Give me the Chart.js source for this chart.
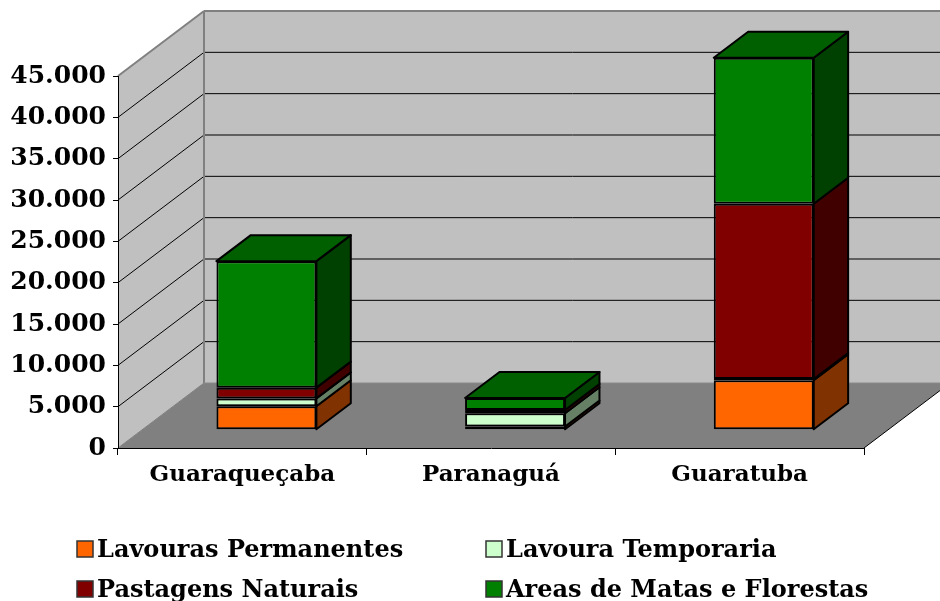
<!DOCTYPE html>
<html>
<head>
<meta charset="utf-8">
<script src="https://cdn.jsdelivr.net/npm/chart.js@4/dist/chart.umd.min.js"></script>
<style>
  html, body { margin: 0; padding: 0; background: #fff; }
</style>
</head>
<body>
<canvas id="usoSolo" width="940" height="601"></canvas>
<script>
// Uso do solo por município (hectares)
const municipios = ['Guaraqueçaba', 'Paranaguá', 'Guaratuba'];
const lavourasPermanentes = [2850, 400, 6000];
const lavouraTemporaria = [950, 1600, 150];
const pastagensNaturais = [1300, 400, 21200];
const matasFlorestas = [15300, 1450, 17650];
const eixoY = { min: 0, max: 45000, passo: 5000 };

// profundidade da caixa 3D (piso) e posição das barras dentro dela
const PROF_X = 86, PROF_Y = 65;
const BARRA_FRENTE = 0.28, BARRA_FUNDO = 0.68;
const FONTE = 'DejaVu Serif';

function escurecer(hex, f) {
  const n = parseInt(hex.slice(1), 16);
  const c = [(n >> 16) & 255, (n >> 8) & 255, n & 255].map(v => Math.round(v * f));
  return 'rgb(' + c.join(',') + ')';
}

function poligono(ctx, pts, fill, stroke, lw) {
  ctx.beginPath();
  pts.forEach((p, i) => i ? ctx.lineTo(p[0], p[1]) : ctx.moveTo(p[0], p[1]));
  ctx.closePath();
  if (fill) { ctx.fillStyle = fill; ctx.fill(); }
  if (stroke) { ctx.strokeStyle = stroke; ctx.lineWidth = lw || 1; ctx.stroke(); }
}

function linha(ctx, x1, y1, x2, y2, cor, lw) {
  ctx.beginPath();
  ctx.moveTo(x1, y1);
  ctx.lineTo(x2, y2);
  ctx.strokeStyle = cor;
  ctx.lineWidth = lw || 1;
  ctx.stroke();
}

const cena3d = {
  id: 'cena3d',
  // paredes, piso e linhas de grade
  beforeDraw(chart) {
    const ctx = chart.ctx;
    const a = chart.chartArea, y = chart.scales.y;
    const L = a.left, R = a.right;
    const T = y.getPixelForValue(eixoY.max), B = y.getPixelForValue(eixoY.min);
    ctx.save();
    ctx.lineJoin = 'round';
    poligono(ctx, [[L + PROF_X, T - PROF_Y], [R + PROF_X, T - PROF_Y], [R + PROF_X, B - PROF_Y], [L + PROF_X, B - PROF_Y]], '#c0c0c0');
    poligono(ctx, [[L, T], [L + PROF_X, T - PROF_Y], [L + PROF_X, B - PROF_Y], [L, B]], '#c0c0c0');
    poligono(ctx, [[L, B], [R, B], [R + PROF_X, B - PROF_Y], [L + PROF_X, B - PROF_Y]], '#808080');

    for (let v = eixoY.min + eixoY.passo; v < eixoY.max; v += eixoY.passo) {
      const py = y.getPixelForValue(v);
      linha(ctx, L, py, L + PROF_X, py - PROF_Y, '#000', 1);
      linha(ctx, L + PROF_X, py - PROF_Y, R + PROF_X, py - PROF_Y, '#000', 1);
    }

    linha(ctx, L, T, L + PROF_X, T - PROF_Y, '#808080', 2);
    linha(ctx, L + PROF_X, T - PROF_Y, R + PROF_X, T - PROF_Y, '#808080', 2);
    linha(ctx, L + PROF_X, T - PROF_Y, L + PROF_X, B - PROF_Y, '#808080', 2);
    linha(ctx, L, B, L + PROF_X, B - PROF_Y, '#808080', 1);
    linha(ctx, L + PROF_X, B - PROF_Y, R + PROF_X, B - PROF_Y, '#8a8a8a', 1);
    linha(ctx, R, B, R + PROF_X, B - PROF_Y, '#000', 1);
    ctx.restore();
  },
  // as faces frontais ficam no meio da profundidade
  beforeDatasetsDraw(chart) {
    chart.ctx.save();
    chart.ctx.translate(PROF_X * BARRA_FRENTE, -PROF_Y * BARRA_FRENTE);
  },
  // laterais e topo das colunas
  afterDatasetsDraw(chart) {
    const ctx = chart.ctx;
    const dx = PROF_X * (BARRA_FUNDO - BARRA_FRENTE);
    const dy = PROF_Y * (BARRA_FUNDO - BARRA_FRENTE);
    const ultima = chart.data.datasets.length - 1;
    ctx.lineJoin = 'round';
    chart.data.datasets.forEach((ds, i) => {
      chart.getDatasetMeta(i).data.forEach(barra => {
        const { x, y, base, width } = barra.getProps(['x', 'y', 'base', 'width'], true);
        const l = x - width / 2, r = x + width / 2;
        poligono(ctx, [[r, y], [r + dx, y - dy], [r + dx, base - dy], [r, base]],
          escurecer(ds.backgroundColor, 0.5), '#000', 2);
        if (i === ultima) {
          poligono(ctx, [[l, y], [l + dx, y - dy], [r + dx, y - dy], [r, y]],
            escurecer(ds.backgroundColor, 0.75), '#000', 2);
        }
      });
    });
    ctx.restore();
  },
  // legenda em duas colunas
  afterDraw(chart) {
    const ctx = chart.ctx;
    const colX = [77, 486], linY = [557, 597];
    ctx.save();
    ctx.font = 'bold 24px "' + FONTE + '"';
    ctx.textBaseline = 'alphabetic';
    ctx.textAlign = 'left';
    chart.data.datasets.forEach((ds, i) => {
      const cx = colX[i % 2], by = linY[Math.floor(i / 2)];
      ctx.fillStyle = ds.backgroundColor;
      ctx.fillRect(cx, by - 16, 16, 16);
      ctx.strokeStyle = '#333';
      ctx.lineWidth = 1.5;
      ctx.strokeRect(cx, by - 16, 16, 16);
      ctx.fillStyle = '#000';
      ctx.fillText(ds.label, cx + 20, by);
    });
    ctx.restore();
  }
};

const serie = (label, data, cor) => ({
  label, data,
  backgroundColor: cor,
  borderColor: '#000',
  borderWidth: 2,
  borderSkipped: false,
  barPercentage: 0.402,
  categoryPercentage: 1,
  clip: false
});

new Chart(document.getElementById('usoSolo'), {
  type: 'bar',
  data: {
    labels: municipios,
    datasets: [
      serie('Lavouras Permanentes', lavourasPermanentes, '#ff6600'),
      serie('Lavoura Temporaria', lavouraTemporaria, '#ccffcc'),
      serie('Pastagens Naturais', pastagensNaturais, '#800000'),
      serie('Areas de Matas e Florestas', matasFlorestas, '#008000')
    ]
  },
  options: {
    responsive: false,
    animation: false,
    layout: { padding: { top: 76, right: 76, left: 0, bottom: 0 } },
    plugins: { legend: { display: false }, tooltip: { enabled: false } },
    scales: {
      x: {
        stacked: true,
        afterFit: s => { s.height = 153; },
        grid: { drawOnChartArea: false, drawTicks: true, tickLength: 7, color: '#000', offset: true },
        border: { display: true, color: '#000', width: 1 },
        ticks: { color: '#000', padding: 6, font: { family: FONTE, size: 23, weight: 'bold' } }
      },
      y: {
        stacked: true,
        min: eixoY.min,
        max: eixoY.max,
        afterFit: s => { s.width = 118; },
        grid: { drawOnChartArea: false, drawTicks: true, tickLength: 5, color: '#000' },
        border: { display: true, color: '#000', width: 1 },
        ticks: {
          stepSize: eixoY.passo,
          color: '#000',
          padding: 7,
          font: { family: FONTE, size: 25, weight: 'bold' },
          callback: v => String(v).replace(/\B(?=(\d{3})+(?!\d))/g, '.')
        }
      }
    }
  },
  plugins: [cena3d]
});
</script>
</body>
</html>
